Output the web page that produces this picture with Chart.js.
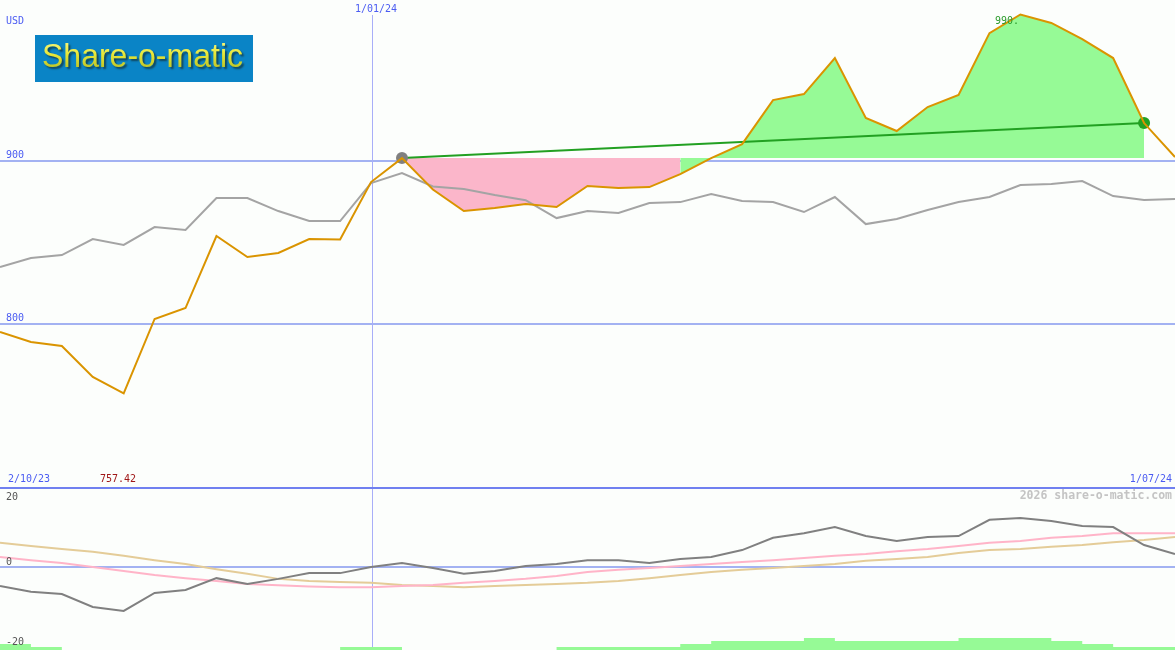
<!DOCTYPE html>
<html>
<head>
<meta charset="utf-8">
<script src="https://cdn.jsdelivr.net/npm/chart.js@4/dist/chart.umd.min.js"></script>
<style>
html, body { margin: 0; padding: 0; background: #fcfefc; }
#wrap { position: relative; width: 1175px; height: 650px; overflow: hidden; }
canvas { position: absolute; left: 0; }
#top { top: 0; }
#bot { top: 487px; }
</style>
</head>
<body>
<div id="wrap">
  <canvas id="top" width="1175" height="487"></canvas>
  <canvas id="bot" width="1175" height="163"></canvas>
</div>
<script>
// weekly closes, one point per step across the window
const price = [795.1, 789.0, 786.5, 767.5, 757.42, 803.1, 809.8, 854.0, 841.1, 843.6,
  852.1, 851.8, 887.1, 901.8, 882.5, 869.3, 871.2, 873.6, 871.8, 884.7,
  883.4, 884.0, 892.0, 901.8, 910.4, 937.4, 941.1, 963.2, 926.4, 918.4,
  933.1, 940.5, 978.5, 989.9, 984.7, 974.8, 963.2, 923.3, 902.5];
const average = [835.0, 840.5, 842.3, 852.1, 848.5, 859.5, 857.7, 877.3, 877.3, 869.3,
  863.2, 863.2, 886.5, 892.6, 884.4, 882.8, 879.1, 876.0, 865.0, 869.3,
  868.1, 874.2, 874.8, 879.8, 875.5, 874.8, 868.7, 877.9, 861.3, 864.4,
  869.9, 874.8, 877.9, 885.3, 885.9, 887.7, 878.5, 876.1, 876.7];
const osc = [-5.3, -6.9, -7.5, -11.1, -12.2, -7.2, -6.4, -3.1, -4.7, -3.3,
  -1.7, -1.7, 0, 1.1, -0.3, -1.9, -1.1, 0.3, 0.8, 1.9,
  1.9, 1.1, 2.2, 2.8, 4.7, 8.1, 9.4, 11.1, 8.6, 7.2,
  8.3, 8.6, 13.1, 13.6, 12.8, 11.4, 11.1, 6.1, 3.6];
const oscSignal = [2.8, 1.9, 1.1, 0, -1.1, -2.2, -3.1, -3.9, -4.7, -5.1,
  -5.4, -5.6, -5.6, -5.3, -5.0, -4.4, -3.9, -3.3, -2.5, -1.4,
  -0.8, -0.3, 0.3, 0.8, 1.4, 1.9, 2.5, 3.1, 3.6, 4.4,
  5.0, 5.8, 6.7, 7.2, 8.1, 8.6, 9.4, 9.4, 9.4];
const oscSlow = [6.7, 5.8, 5.0, 4.2, 3.1, 1.9, 0.8, -0.6, -1.9, -3.3,
  -3.9, -4.2, -4.4, -5.0, -5.3, -5.6, -5.3, -5.0, -4.7, -4.4,
  -3.9, -3.1, -2.2, -1.4, -0.8, -0.3, 0.3, 0.8, 1.7, 2.2,
  2.8, 3.9, 4.7, 5.0, 5.6, 6.1, 6.9, 7.5, 8.3];
const activity = [2, 1, 0, 0, 0, 0, 0, 0, 0, 0,
  0, 1, 1, 0, 0, 0, 0, 0, 1, 1,
  1, 1, 2, 3, 3, 3, 4, 3, 3, 3,
  3, 4, 4, 4, 3, 2, 1, 1, 1];

const buyIdx = 13, sellIdx = 37, turnIdx = 22;
const yearMark = 12.03;
const priceTicks = [900, 800];
const oscTicks = [20, 0, -20];
const dateLabels = ['2/10/23', '1/01/24', '1/07/24'];
const minLabel = '757.42', maxLabel = '990.';

const pts = (arr, from = 0, to = arr.length - 1) =>
  arr.slice(from, to + 1).map((v, i) => ({ x: from + i, y: v }));

const MONO = '"DejaVu Sans Mono", monospace';
const BLUE = '#4b5cf2';
const GRID = '#a3b2f2';

const topDecor = {
  id: 'topDecor',
  beforeDatasetsDraw(chart) {
    const { ctx, chartArea: a, scales: { x, y } } = chart;
    ctx.save();
    ctx.strokeStyle = GRID;
    ctx.lineWidth = 2;
    priceTicks.forEach(v => {
      const py = Math.round(y.getPixelForValue(v));
      ctx.beginPath(); ctx.moveTo(a.left, py); ctx.lineTo(a.right, py); ctx.stroke();
    });
    const px = Math.round(x.getPixelForValue(yearMark)) + 0.5;
    ctx.lineWidth = 1;
    ctx.strokeStyle = '#a8aef8';
    ctx.beginPath(); ctx.moveTo(px, 15); ctx.lineTo(px, a.bottom); ctx.stroke();
    ctx.restore();
  },
  afterDraw(chart) {
    const { ctx, scales: { x, y } } = chart;
    ctx.save();
    ctx.font = '10px ' + MONO;
    ctx.textBaseline = 'middle';
    ctx.fillStyle = BLUE;
    ctx.fillText('USD', 6, 21);
    priceTicks.forEach(v => ctx.fillText(String(v), 6, y.getPixelForValue(v) - 6));
    ctx.textAlign = 'center';
    ctx.fillText(dateLabels[1], x.getPixelForValue(yearMark) + 4, 9);
    ctx.textAlign = 'left';
    ctx.fillText(dateLabels[0], 8, 479);
    ctx.textAlign = 'right';
    ctx.fillText(dateLabels[2], 1172, 479);
    ctx.textAlign = 'left';
    ctx.fillStyle = '#a01818';
    ctx.fillText(minLabel, 100, 479);
    ctx.fillStyle = '#2a9a2a';
    ctx.fillText(maxLabel, 995, 21);

    // logo
    ctx.fillStyle = '#0a84c6';
    ctx.fillRect(35, 35, 218, 47);
    ctx.font = '33px "Liberation Sans", sans-serif';
    ctx.textBaseline = 'alphabetic';
    const w = ctx.measureText('Share-o-matic').width;
    ctx.translate(42, 67);
    ctx.scale(201 / w, 1);
    ctx.shadowColor = 'rgba(20,40,40,0.7)';
    ctx.shadowOffsetX = 2;
    ctx.shadowOffsetY = 2;
    ctx.shadowBlur = 2;
    const g = ctx.createLinearGradient(0, -26, 0, 0);
    g.addColorStop(0, '#f6f680');
    g.addColorStop(0.5, '#e8e838');
    g.addColorStop(1, '#c0c828');
    ctx.fillStyle = g;
    ctx.fillText('Share-o-matic', 0, 0);
    ctx.restore();
  }
};

new Chart(document.getElementById('top'), {
  type: 'line',
  data: {
    datasets: [
      { data: pts(price), borderColor: '#da9400', borderWidth: 2, pointRadius: 0, order: 0 },
      { data: [{ x: buyIdx, y: price[buyIdx] }, { x: sellIdx, y: price[sellIdx] }],
        borderColor: '#22a022', borderWidth: 2,
        pointRadius: 6, pointBorderWidth: 0, pointBackgroundColor: ['#808080', '#22a022'], order: 1 },
      { data: pts(average), borderColor: '#a4a4a4', borderWidth: 2, pointRadius: 0, order: 2 },
      { data: pts(price, buyIdx, turnIdx), borderWidth: 0, pointRadius: 0,
        backgroundColor: '#fbb6ca', fill: { value: price[buyIdx] }, order: 3 },
      { data: pts(price, turnIdx, sellIdx), borderWidth: 0, pointRadius: 0,
        backgroundColor: '#96fa96', fill: { value: price[buyIdx] }, order: 4 }
    ]
  },
  options: {
    responsive: false,
    animation: false,
    devicePixelRatio: 1,
    layout: { padding: 0, autoPadding: false },
    plugins: { legend: { display: false }, tooltip: { enabled: false } },
    scales: {
      x: { type: 'linear', min: 0, max: price.length - 1, display: false },
      y: { min: 700, max: 998.8, display: false }
    }
  },
  plugins: [topDecor]
});

const botDecor = {
  id: 'botDecor',
  beforeDatasetsDraw(chart) {
    const { ctx, chartArea: a, scales: { x, y } } = chart;
    ctx.save();
    ctx.strokeStyle = GRID;
    ctx.lineWidth = 2;
    const py = Math.round(y.getPixelForValue(0));
    ctx.beginPath(); ctx.moveTo(a.left, py); ctx.lineTo(a.right, py); ctx.stroke();
    const px = Math.round(x.getPixelForValue(yearMark)) + 0.5;
    ctx.lineWidth = 1;
    ctx.strokeStyle = '#a8aef8';
    ctx.beginPath(); ctx.moveTo(px, 0); ctx.lineTo(px, a.bottom); ctx.stroke();
    ctx.restore();
  },
  afterDraw(chart) {
    const { ctx, scales: { y } } = chart;
    ctx.save();
    ctx.fillStyle = '#7080f0';
    ctx.fillRect(0, 0, chart.width, 2);
    ctx.font = '10px ' + MONO;
    ctx.textBaseline = 'middle';
    ctx.fillStyle = '#555555';
    oscTicks.forEach(v => {
      const py = v === 0 ? y.getPixelForValue(0) - 5 : y.getPixelForValue(v) + (v > 0 ? 2 : 3);
      ctx.fillText(String(v), 6, py);
    });
    ctx.font = 'bold 11.5px ' + MONO;
    ctx.fillStyle = '#c4c4c4';
    ctx.textAlign = 'right';
    ctx.fillText('2026 share-o-matic.com', 1172, 9);
    ctx.restore();
  }
};

new Chart(document.getElementById('bot'), {
  type: 'line',
  data: {
    datasets: [
      { data: pts(osc), borderColor: '#808080', borderWidth: 2, pointRadius: 0, order: 0 },
      { data: pts(oscSignal), borderColor: '#ffb4c8', borderWidth: 2, pointRadius: 0, order: 1 },
      { data: pts(oscSlow), borderColor: '#e4cc98', borderWidth: 2, pointRadius: 0, order: 2 },
      { data: pts(activity), yAxisID: 'yb', stepped: 'before', borderWidth: 0, pointRadius: 0,
        backgroundColor: '#96fa96', fill: 'origin', order: 3 }
    ]
  },
  options: {
    responsive: false,
    animation: false,
    devicePixelRatio: 1,
    layout: { padding: 0, autoPadding: false },
    plugins: { legend: { display: false }, tooltip: { enabled: false } },
    scales: {
      x: { type: 'linear', min: 0, max: osc.length - 1, display: false },
      y: { min: -23.06, max: 22.22, display: false },
      yb: { min: 0, max: 54.33, display: false }
    }
  },
  plugins: [botDecor]
});
</script>
</body>
</html>
